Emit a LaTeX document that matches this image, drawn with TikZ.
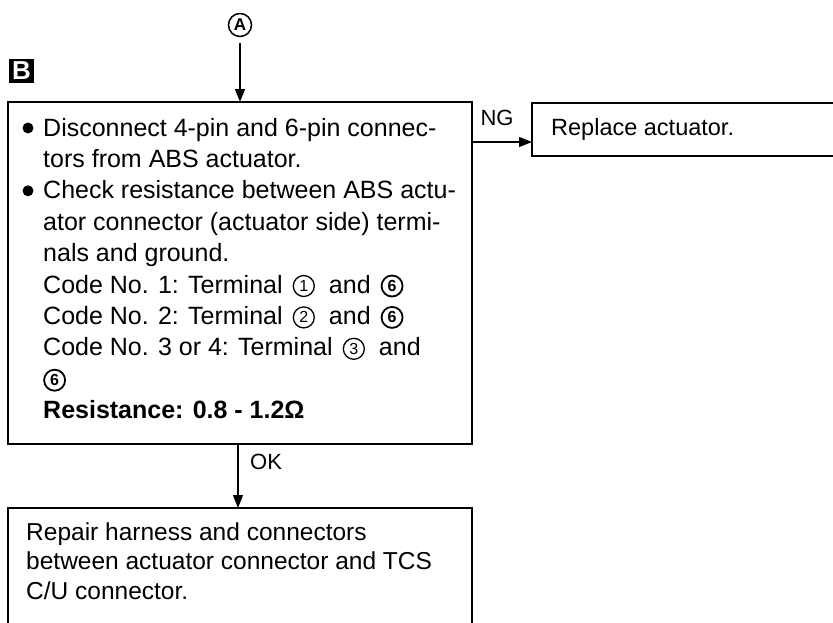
\documentclass[tikz,border=0pt]{standalone}
\usepackage{fontspec}
\setmainfont{Liberation Sans}
\usetikzlibrary{arrows.meta}
\newcommand\cnum[1]{\tikz[baseline={([yshift=-7pt]cn.center)}]\node[circle,draw,line width=1.3pt,minimum size=21pt,inner sep=0pt,outer sep=0pt,font=\fontsize{16}{16}\selectfont](cn){#1};}
\newcommand\cnumb[1]{\tikz[baseline={([yshift=-7pt]cn.center)}]\node[circle,draw,line width=1.8pt,minimum size=21pt,inner sep=0pt,outer sep=0pt,font=\bfseries\fontsize{16}{16}\selectfont](cn){#1};}
\tikzset{
  box/.style={draw, line width=2.2pt, rectangle, inner sep=0pt, outer sep=0pt},
  txt/.style={anchor=base west, inner sep=0pt, font=\fontsize{25}{30}\selectfont},
  txtb/.style={anchor=base west, inner sep=0pt, font=\fontsize{24.5}{30}\selectfont},
  arr/.style={line width=1.3pt, -{Triangle[length=13pt,width=10pt]}},
  lbl/.style={font=\fontsize{22}{26}\selectfont, inner sep=0pt},
  bul/.style={fill=black}
}
\begin{document}
\begin{tikzpicture}[x=1pt,y=-1pt]
\useasboundingbox (0,0) rectangle (833,622);
\clip (0,0) rectangle (833,622);
% circled A
\node[circle, draw, line width=1.5pt, minimum size=23pt, inner sep=0pt, font=\bfseries\fontsize{17}{17}\selectfont] (A) at (240,25) {A};
% B label
\node[fill=black, text=white, minimum width=25pt, minimum height=24pt, inner sep=0pt, font=\bfseries\fontsize{26}{26}\selectfont] (B) at (21.5,71) {B};
% boxes
\node[box, minimum width=464pt, minimum height=342pt] (main) at (240,273) {};
\node[box, minimum width=368pt, minimum height=53pt] (rep) at (716,129.5) {};
\node[box, minimum width=464pt, minimum height=152pt] (bot) at (240,584) {};
% main text
\fill[bul] (28,128) circle (5.5pt);
\fill[bul] (28,190.8) circle (5.5pt);
\node[txt] (m1) at (43,136) {Disconnect 4-pin and 6-pin connec-};
\node[txt] (m2) at (43,167.4) {tors from ABS actuator.};
\node[txt] (m3) at (43,198.8) {Check resistance between ABS actu-};
\node[txt] (m4) at (43,230.2) {ator connector (actuator side) termi-};
\node[txt] (m5) at (43,261.6) {nals and ground.};
\node[txt] (m6) at (43,293) {Code No. 1: Terminal\hspace{10pt}\cnum{1}\hspace{14pt}and\hspace{10pt}\cnumb{6}};
\node[txt] (m7) at (43,324.4) {Code No. 2: Terminal\hspace{10pt}\cnum{2}\hspace{14pt}and\hspace{10pt}\cnumb{6}};
\node[txt] (m8) at (43,355.8) {Code No. 3 or 4: Terminal\hspace{10pt}\cnum{3}\hspace{14pt}and};
\node[txt] (m9) at (43,387.2) {\cnumb{6}};
\node[txt, font=\bfseries\fontsize{25}{30}\selectfont] (m10) at (43,418.6) {Resistance: 0.8 - 1.2Ω};
% replace text
\node[txt, font=\fontsize{23.5}{28}\selectfont] (r1) at (551,135.5) {Replace actuator.};
% bottom text
\node[txtb] (b1) at (26,540) {Repair harness and connectors};
\node[txtb] (b2) at (26,569.5) {between actuator connector and TCS};
\node[txtb] (b3) at (26,599) {C/U connector.};
% connectors
\draw[arr, shorten <=6pt] (A) -- (main.north -| A);
\coordinate (ngy) at (0,142);
\draw[arr] (main.east |- ngy) -- (rep.west |- ngy);
\node[lbl] (ng) at (497,118) {NG};
\coordinate (okx) at (238,0);
\draw[arr] (okx |- main.south) -- (okx |- bot.north);
\node[lbl, anchor=west] (ok) at (250,462) {OK};
\end{tikzpicture}
\end{document}
